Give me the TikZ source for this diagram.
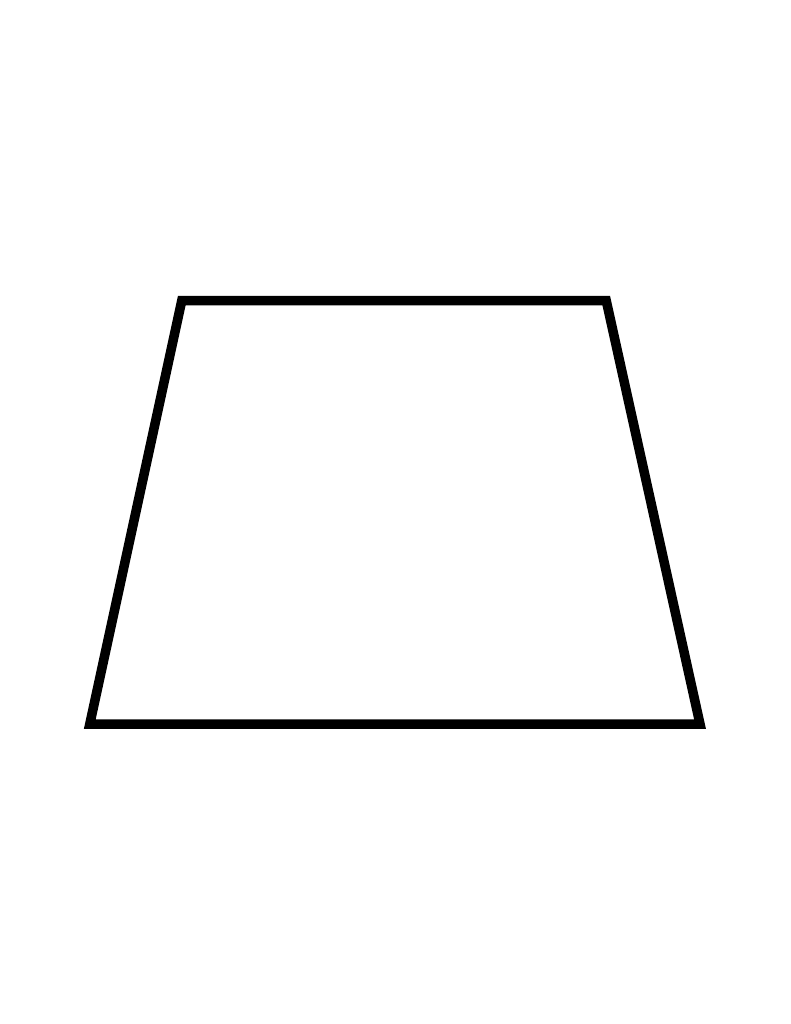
\documentclass[tikz,border=0pt]{standalone}
\begin{document}
\begin{tikzpicture}[x=1pt,y=-1pt,
  outline/.style={draw=black,line width=9.5pt,miter limit=10,line join=miter}]
\useasboundingbox[fill=white] (0,0) rectangle (791,1024);
\coordinate (tl) at (181.8,300.5);
\coordinate (tr) at (606.2,300.5);
\coordinate (br) at (700,724);
\coordinate (bl) at (89.8,724);
\draw[outline] (tl) -- (tr) -- (br) -- (bl) -- cycle;
\end{tikzpicture}
\end{document}
